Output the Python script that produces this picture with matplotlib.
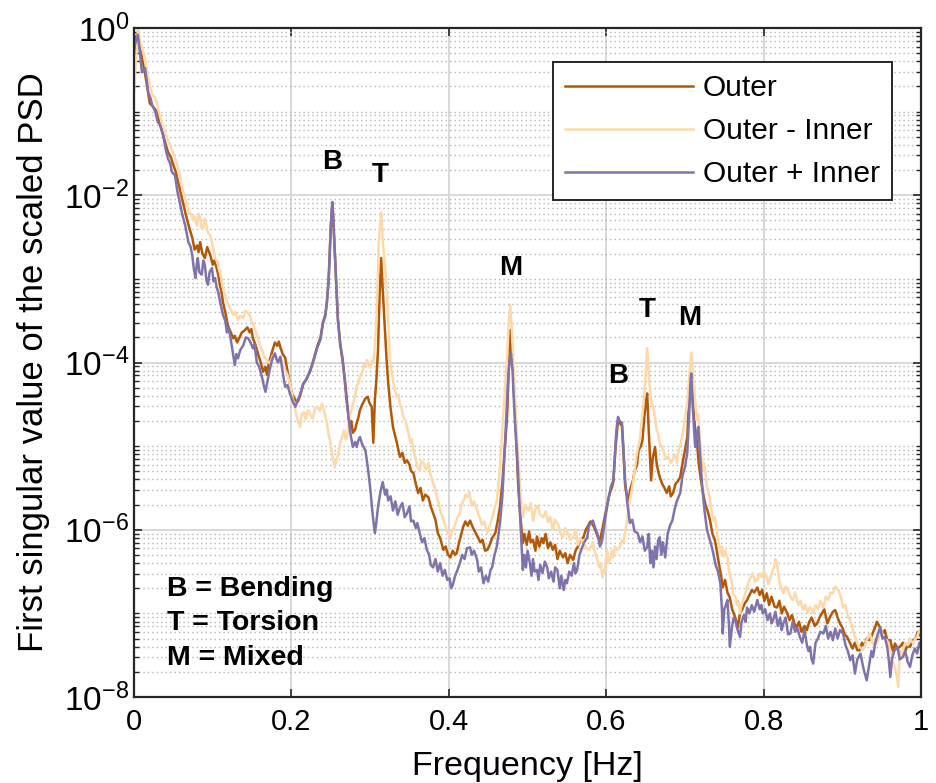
import matplotlib
matplotlib.use("Agg")
import matplotlib.pyplot as plt
import numpy as np

plt.rcParams['font.family'] = ['Liberation Sans', 'DejaVu Sans']
plt.rcParams['mathtext.fontset'] = 'custom'
plt.rcParams['mathtext.rm'] = 'Liberation Sans'
plt.rcParams['mathtext.it'] = 'Liberation Sans'
plt.rcParams['mathtext.bf'] = 'Liberation Sans:bold'

# ---- spectra: frequency [Hz] and log10 of the first singular value ----
outer_freq = [
    0.000, 0.004, 0.007, 0.011, 0.014, 0.017, 0.020, 0.024, 0.029, 0.033,
    0.037, 0.040, 0.043, 0.047, 0.050, 0.053, 0.056, 0.060, 0.065, 0.069,
    0.074, 0.077, 0.080, 0.082, 0.084, 0.087, 0.090, 0.093, 0.097, 0.100,
    0.102, 0.105, 0.107, 0.109, 0.111, 0.113, 0.116, 0.119, 0.122, 0.126,
    0.128, 0.131, 0.134, 0.137, 0.140, 0.144, 0.147, 0.149, 0.151, 0.154,
    0.158, 0.161, 0.164, 0.167, 0.169, 0.171, 0.173, 0.176, 0.179, 0.182,
    0.184, 0.186, 0.189, 0.192, 0.195, 0.198, 0.201, 0.205, 0.208, 0.211,
    0.215, 0.219, 0.224, 0.228, 0.233, 0.237, 0.240, 0.243, 0.245, 0.247,
    0.248, 0.250, 0.252, 0.253, 0.255, 0.257, 0.259, 0.262, 0.265, 0.268,
    0.271, 0.274, 0.276, 0.278, 0.281, 0.283, 0.285, 0.287, 0.290, 0.294,
    0.297, 0.299, 0.302, 0.304, 0.306, 0.308, 0.310, 0.312, 0.314, 0.316,
    0.319, 0.321, 0.323, 0.326, 0.329, 0.331, 0.334, 0.336, 0.338, 0.341,
    0.344, 0.347, 0.350, 0.352, 0.355, 0.358, 0.361, 0.364, 0.367, 0.370,
    0.374, 0.377, 0.380, 0.383, 0.386, 0.389, 0.393, 0.396, 0.399, 0.402,
    0.405, 0.408, 0.410, 0.413, 0.416, 0.418, 0.421, 0.424, 0.427, 0.430,
    0.433, 0.437, 0.440, 0.443, 0.446, 0.449, 0.452, 0.455, 0.459, 0.462,
    0.465, 0.468, 0.471, 0.474, 0.476, 0.478, 0.480, 0.482, 0.485, 0.488,
    0.491, 0.494, 0.496, 0.499, 0.502, 0.504, 0.507, 0.510, 0.512, 0.515,
    0.518, 0.520, 0.523, 0.526, 0.529, 0.532, 0.535, 0.538, 0.541, 0.545,
    0.548, 0.551, 0.554, 0.558, 0.561, 0.564, 0.567, 0.571, 0.574, 0.577,
    0.580, 0.582, 0.585, 0.588, 0.590, 0.592, 0.595, 0.598, 0.601, 0.604,
    0.607, 0.609, 0.612, 0.615, 0.617, 0.620, 0.622, 0.624, 0.626, 0.628,
    0.631, 0.634, 0.636, 0.639, 0.641, 0.644, 0.646, 0.648, 0.650, 0.652,
    0.653, 0.654, 0.656, 0.657, 0.659, 0.662, 0.664, 0.666, 0.668, 0.671,
    0.674, 0.677, 0.680, 0.682, 0.685, 0.688, 0.691, 0.694, 0.697, 0.700,
    0.703, 0.705, 0.708, 0.710, 0.713, 0.715, 0.718, 0.720, 0.723, 0.726,
    0.729, 0.732, 0.735, 0.738, 0.741, 0.744, 0.746, 0.748, 0.751, 0.754,
    0.757, 0.760, 0.764, 0.767, 0.770, 0.773, 0.776, 0.779, 0.782, 0.785,
    0.788, 0.792, 0.795, 0.798, 0.801, 0.804, 0.807, 0.810, 0.814, 0.817,
    0.820, 0.823, 0.826, 0.830, 0.833, 0.836, 0.839, 0.842, 0.845, 0.848,
    0.852, 0.855, 0.858, 0.861, 0.865, 0.868, 0.871, 0.874, 0.877, 0.881,
    0.884, 0.888, 0.891, 0.894, 0.897, 0.900, 0.903, 0.906, 0.910, 0.913,
    0.916, 0.919, 0.922, 0.925, 0.928, 0.931, 0.935, 0.938, 0.941, 0.944,
    0.948, 0.951, 0.954, 0.957, 0.961, 0.964, 0.967, 0.970, 0.973, 0.977,
    0.980, 0.983, 0.986, 0.990, 0.993, 0.996, 1.000]
outer_logpsd = [
    -0.25, -0.06, -0.20, -0.41, -0.55, -0.72, -0.90, -0.94, -1.00, -1.15,
    -1.28, -1.38, -1.48, -1.55, -1.64, -1.72, -1.84, -2.00, -2.20, -2.35,
    -2.51, -2.65, -2.60, -2.68, -2.56, -2.70, -2.75, -2.62, -2.72, -2.83,
    -2.78, -2.87, -2.95, -3.07, -3.15, -3.28, -3.40, -3.55, -3.62, -3.71,
    -3.68, -3.76, -3.70, -3.64, -3.62, -3.58, -3.64, -3.60, -3.71, -3.78,
    -3.91, -4.00, -4.11, -4.05, -4.15, -4.02, -3.95, -3.85, -3.76, -3.80,
    -3.75, -3.82, -3.90, -3.94, -4.10, -4.25, -4.38, -4.45, -4.47, -4.40,
    -4.26, -4.20, -4.10, -3.97, -3.80, -3.70, -3.52, -3.43, -3.28, -3.05,
    -2.85, -2.38, -2.09, -2.25, -2.66, -3.08, -3.47, -3.79, -3.98, -4.21,
    -4.50, -4.77, -4.70, -4.84, -4.80, -4.72, -4.66, -4.57, -4.50, -4.43,
    -4.41, -4.48, -4.53, -4.96, -4.45, -4.20, -3.85, -3.20, -2.75, -3.13,
    -3.65, -3.98, -4.25, -4.55, -4.77, -4.85, -4.96, -5.05, -5.13, -5.08,
    -5.20, -5.17, -5.22, -5.30, -5.32, -5.45, -5.56, -5.50, -5.65, -5.58,
    -5.61, -5.72, -5.80, -5.88, -6.04, -6.10, -6.24, -6.20, -6.30, -6.33,
    -6.25, -6.30, -6.28, -6.15, -6.05, -5.97, -5.90, -5.95, -5.89, -5.96,
    -6.02, -6.09, -6.15, -6.12, -6.25, -6.24, -6.18, -6.10, -6.04, -5.90,
    -5.72, -5.44, -5.05, -4.65, -4.10, -3.61, -3.85, -4.17, -4.80, -5.44,
    -5.85, -6.16, -6.05, -6.18, -6.02, -6.15, -6.12, -6.25, -6.08, -6.20,
    -6.10, -6.16, -6.05, -6.22, -6.15, -6.24, -6.18, -6.35, -6.25, -6.33,
    -6.28, -6.40, -6.30, -6.36, -6.25, -6.20, -6.12, -6.09, -6.00, -5.95,
    -5.90, -5.92, -5.98, -6.05, -6.10, -6.12, -6.00, -5.85, -5.71, -5.58,
    -5.50, -5.43, -5.00, -4.69, -4.72, -4.76, -5.10, -5.47, -5.58, -5.65,
    -5.50, -5.41, -5.30, -5.23, -5.05, -5.00, -4.93, -4.70, -4.50, -4.37,
    -4.60, -4.81, -5.20, -5.41, -5.15, -5.01, -5.20, -5.30, -5.37, -5.45,
    -5.50, -5.56, -5.48, -5.60, -5.56, -5.45, -5.42, -5.37, -5.20, -5.05,
    -4.89, -4.50, -4.17, -4.45, -4.81, -4.93, -5.25, -5.38, -5.56, -5.70,
    -5.78, -5.89, -6.05, -6.12, -6.28, -6.45, -6.55, -6.69, -6.60, -6.75,
    -6.81, -6.95, -7.05, -7.17, -7.00, -6.95, -6.88, -6.84, -6.78, -6.72,
    -6.75, -6.69, -6.78, -6.72, -6.85, -6.76, -6.90, -6.80, -6.92, -6.93,
    -6.85, -7.00, -6.92, -7.00, -7.08, -7.02, -7.12, -7.17, -7.10, -7.22,
    -7.15, -7.20, -7.10, -7.05, -7.15, -7.12, -7.05, -7.00, -6.95, -7.12,
    -7.05, -6.98, -6.96, -7.05, -7.12, -7.17, -7.25, -7.28, -7.36, -7.42,
    -7.35, -7.44, -7.44, -7.35, -7.40, -7.30, -7.32, -7.25, -7.18, -7.10,
    -7.17, -7.25, -7.20, -7.32, -7.32, -7.45, -7.36, -7.42, -7.40, -7.35,
    -7.45, -7.38, -7.40, -7.32, -7.30, -7.22, -7.28]

diff_freq = [
    0.000, 0.0025, 0.005, 0.009, 0.014, 0.017, 0.020, 0.023, 0.026, 0.029,
    0.032, 0.036, 0.039, 0.042, 0.045, 0.048, 0.052, 0.055, 0.058, 0.062,
    0.065, 0.069, 0.072, 0.075, 0.077, 0.080, 0.082, 0.084, 0.086, 0.088,
    0.090, 0.091, 0.094, 0.097, 0.100, 0.103, 0.106, 0.108, 0.111, 0.113,
    0.116, 0.119, 0.122, 0.126, 0.129, 0.132, 0.135, 0.139, 0.141, 0.144,
    0.147, 0.150, 0.154, 0.157, 0.160, 0.163, 0.166, 0.169, 0.173, 0.176,
    0.179, 0.182, 0.186, 0.189, 0.192, 0.195, 0.198, 0.201, 0.205, 0.208,
    0.211, 0.213, 0.216, 0.218, 0.221, 0.224, 0.227, 0.230, 0.233, 0.236,
    0.239, 0.242, 0.245, 0.247, 0.249, 0.252, 0.255, 0.257, 0.259, 0.262,
    0.264, 0.267, 0.269, 0.271, 0.274, 0.276, 0.278, 0.281, 0.283, 0.285,
    0.287, 0.290, 0.292, 0.294, 0.296, 0.298, 0.300, 0.302, 0.304, 0.306,
    0.308, 0.310, 0.311, 0.314, 0.316, 0.319, 0.321, 0.323, 0.325, 0.328,
    0.330, 0.332, 0.334, 0.336, 0.338, 0.340, 0.342, 0.345, 0.347, 0.349,
    0.351, 0.353, 0.355, 0.358, 0.360, 0.363, 0.365, 0.368, 0.371, 0.374,
    0.377, 0.380, 0.383, 0.385, 0.387, 0.389, 0.392, 0.395, 0.398, 0.402,
    0.405, 0.408, 0.411, 0.414, 0.416, 0.419, 0.421, 0.424, 0.426, 0.429,
    0.432, 0.436, 0.439, 0.442, 0.445, 0.449, 0.452, 0.455, 0.458, 0.461,
    0.465, 0.469, 0.472, 0.474, 0.476, 0.478, 0.480, 0.482, 0.485, 0.488,
    0.491, 0.494, 0.497, 0.501, 0.504, 0.507, 0.510, 0.513, 0.516, 0.520,
    0.523, 0.526, 0.529, 0.532, 0.535, 0.539, 0.542, 0.545, 0.548, 0.551,
    0.554, 0.558, 0.561, 0.564, 0.567, 0.571, 0.575, 0.579, 0.583, 0.586,
    0.588, 0.591, 0.593, 0.595, 0.597, 0.598, 0.600, 0.601, 0.603, 0.605,
    0.607, 0.609, 0.611, 0.614, 0.617, 0.620, 0.622, 0.624, 0.627, 0.630,
    0.632, 0.634, 0.636, 0.639, 0.641, 0.643, 0.645, 0.647, 0.650, 0.652,
    0.654, 0.656, 0.657, 0.660, 0.662, 0.664, 0.666, 0.668, 0.671, 0.673,
    0.676, 0.679, 0.682, 0.684, 0.687, 0.690, 0.692, 0.694, 0.696, 0.698,
    0.701, 0.703, 0.706, 0.708, 0.710, 0.713, 0.715, 0.717, 0.719, 0.722,
    0.724, 0.726, 0.728, 0.730, 0.732, 0.734, 0.736, 0.738, 0.741, 0.743,
    0.745, 0.747, 0.749, 0.751, 0.754, 0.757, 0.759, 0.761, 0.764, 0.766,
    0.768, 0.770, 0.772, 0.774, 0.777, 0.779, 0.781, 0.783, 0.786, 0.789,
    0.792, 0.795, 0.798, 0.800, 0.803, 0.806, 0.808, 0.811, 0.813, 0.815,
    0.817, 0.819, 0.821, 0.823, 0.825, 0.828, 0.831, 0.834, 0.837, 0.840,
    0.844, 0.847, 0.850, 0.853, 0.856, 0.859, 0.863, 0.866, 0.869, 0.872,
    0.876, 0.879, 0.882, 0.885, 0.888, 0.891, 0.895, 0.898, 0.901, 0.904,
    0.906, 0.908, 0.910, 0.913, 0.915, 0.917, 0.919, 0.922, 0.926, 0.929,
    0.931, 0.933, 0.935, 0.938, 0.940, 0.942, 0.944, 0.947, 0.950, 0.953,
    0.957, 0.959, 0.961, 0.963, 0.964, 0.966, 0.968, 0.970, 0.971, 0.973,
    0.975, 0.977, 0.980, 0.983, 0.986, 0.990, 0.993, 0.995, 0.998, 1.000]
diff_logpsd = [
    -0.77, -0.38, -0.02, -0.20, -0.36, -0.55, -0.68, -0.80, -0.82, -0.89,
    -1.02, -1.16, -1.22, -1.32, -1.38, -1.46, -1.55, -1.64, -1.75, -1.94,
    -2.05, -2.20, -2.22, -2.30, -2.25, -2.36, -2.22, -2.27, -2.40, -2.39,
    -2.28, -2.32, -2.45, -2.48, -2.60, -2.75, -2.80, -2.89, -3.00, -3.11,
    -3.20, -3.31, -3.35, -3.43, -3.40, -3.49, -3.44, -3.47, -3.38, -3.40,
    -3.43, -3.52, -3.61, -3.70, -3.79, -3.86, -3.94, -3.98, -4.01, -3.92,
    -3.91, -3.97, -3.94, -4.02, -4.09, -4.15, -4.25, -4.40, -4.57, -4.70,
    -4.77, -4.62, -4.59, -4.68, -4.57, -4.62, -4.67, -4.55, -4.53, -4.58,
    -4.49, -4.60, -4.72, -4.85, -4.93, -5.12, -5.25, -5.18, -5.11, -4.96,
    -4.90, -4.81, -4.92, -4.87, -4.63, -4.58, -4.49, -4.40, -4.27, -4.25,
    -4.17, -4.12, -4.03, -4.05, -3.97, -4.02, -4.07, -3.98, -4.00, -3.80,
    -3.46, -2.90, -2.54, -2.20, -2.54, -2.86, -3.15, -3.49, -3.97, -4.15,
    -4.27, -4.35, -4.41, -4.38, -4.51, -4.55, -4.65, -4.70, -4.78, -4.85,
    -4.96, -4.92, -5.05, -5.15, -5.25, -5.29, -5.18, -5.20, -5.28, -5.20,
    -5.35, -5.44, -5.52, -5.61, -5.68, -5.77, -5.85, -5.94, -6.02, -6.09,
    -6.00, -5.94, -5.85, -5.80, -5.70, -5.65, -5.58, -5.61, -5.55, -5.71,
    -5.66, -5.77, -5.85, -5.94, -5.90, -6.04, -5.95, -5.86, -5.75, -5.65,
    -5.25, -4.65, -4.20, -3.97, -3.55, -3.31, -3.60, -3.97, -4.55, -5.13,
    -5.55, -5.85, -5.70, -5.77, -5.68, -5.89, -5.75, -5.71, -5.82, -5.85,
    -5.78, -5.91, -5.85, -6.00, -5.88, -5.94, -6.05, -6.09, -5.98, -6.03,
    -6.12, -6.09, -6.00, -6.18, -6.10, -6.16, -6.22, -6.24, -6.15, -6.28,
    -6.33, -6.45, -6.40, -6.57, -6.48, -6.52, -6.30, -6.24, -6.40, -6.36,
    -6.25, -6.33, -6.20, -6.24, -6.21, -6.12, -6.15, -6.04, -5.85, -5.65,
    -5.55, -5.44, -5.30, -5.08, -5.00, -4.89, -4.70, -4.53, -4.15, -3.83,
    -4.15, -4.35, -4.45, -4.55, -4.65, -4.81, -4.85, -4.96, -5.02, -5.07,
    -5.15, -5.13, -5.20, -5.17, -5.10, -5.20, -5.05, -4.99, -4.90, -4.81,
    -4.60, -4.49, -4.10, -3.88, -4.09, -4.45, -4.69, -4.62, -4.89, -5.29,
    -5.20, -5.31, -5.49, -5.55, -5.65, -5.80, -5.89, -5.85, -6.04, -6.15,
    -6.28, -6.20, -6.32, -6.25, -6.33, -6.54, -6.60, -6.76, -6.80, -6.90,
    -6.85, -7.00, -6.90, -6.84, -6.75, -6.69, -6.62, -6.58, -6.52, -6.62,
    -6.60, -6.52, -6.57, -6.50, -6.54, -6.65, -6.60, -6.50, -6.45, -6.35,
    -6.40, -6.55, -6.66, -6.70, -6.76, -6.68, -6.72, -6.80, -6.84, -6.75,
    -6.90, -6.85, -6.96, -6.90, -6.99, -6.92, -7.00, -6.90, -6.94, -6.85,
    -6.93, -6.80, -6.84, -6.75, -6.76, -6.68, -6.72, -6.80, -6.93, -6.90,
    -6.99, -7.05, -7.08, -7.18, -7.26, -7.30, -7.36, -7.40, -7.44, -7.38,
    -7.32, -7.28, -7.24, -7.35, -7.38, -7.30, -7.36, -7.28, -7.22, -7.30,
    -7.32, -7.40, -7.44, -7.50, -7.56, -7.62, -7.70, -7.80, -7.88, -7.44,
    -7.50, -7.44, -7.35, -7.38, -7.30, -7.36, -7.30, -7.28, -7.20, -7.22]

sum_freq = [
    0.000, 0.001, 0.005, 0.008, 0.010, 0.014, 0.016, 0.018, 0.021, 0.023,
    0.027, 0.030, 0.033, 0.037, 0.040, 0.043, 0.046, 0.048, 0.052, 0.055,
    0.058, 0.061, 0.065, 0.069, 0.072, 0.074, 0.076, 0.078, 0.080, 0.081,
    0.083, 0.086, 0.088, 0.090, 0.092, 0.094, 0.096, 0.099, 0.101, 0.103,
    0.105, 0.107, 0.110, 0.113, 0.116, 0.118, 0.120, 0.122, 0.125, 0.128,
    0.130, 0.132, 0.135, 0.139, 0.142, 0.145, 0.148, 0.151, 0.153, 0.156,
    0.159, 0.163, 0.165, 0.167, 0.170, 0.173, 0.176, 0.179, 0.181, 0.183,
    0.186, 0.188, 0.190, 0.192, 0.195, 0.198, 0.201, 0.205, 0.208, 0.211,
    0.215, 0.219, 0.224, 0.228, 0.233, 0.237, 0.240, 0.243, 0.245, 0.247,
    0.248, 0.250, 0.252, 0.253, 0.255, 0.257, 0.259, 0.262, 0.265, 0.268,
    0.270, 0.272, 0.275, 0.278, 0.281, 0.283, 0.285, 0.287, 0.290, 0.294,
    0.297, 0.300, 0.303, 0.306, 0.308, 0.310, 0.313, 0.316, 0.319, 0.321,
    0.323, 0.326, 0.329, 0.332, 0.335, 0.338, 0.341, 0.344, 0.347, 0.350,
    0.352, 0.355, 0.358, 0.360, 0.363, 0.366, 0.369, 0.372, 0.375, 0.377,
    0.380, 0.383, 0.386, 0.389, 0.392, 0.395, 0.398, 0.401, 0.403, 0.405,
    0.408, 0.411, 0.414, 0.417, 0.420, 0.423, 0.427, 0.429, 0.432, 0.436,
    0.438, 0.441, 0.444, 0.447, 0.450, 0.453, 0.455, 0.458, 0.461, 0.465,
    0.468, 0.471, 0.473, 0.475, 0.477, 0.479, 0.481, 0.482, 0.484, 0.487,
    0.489, 0.491, 0.494, 0.496, 0.498, 0.500, 0.503, 0.505, 0.507, 0.509,
    0.512, 0.514, 0.516, 0.519, 0.522, 0.525, 0.527, 0.530, 0.533, 0.535,
    0.538, 0.541, 0.543, 0.546, 0.548, 0.550, 0.553, 0.556, 0.559, 0.561,
    0.563, 0.566, 0.569, 0.572, 0.576, 0.578, 0.581, 0.583, 0.586, 0.589,
    0.592, 0.595, 0.597, 0.599, 0.601, 0.603, 0.606, 0.609, 0.611, 0.613,
    0.615, 0.617, 0.620, 0.622, 0.624, 0.627, 0.630, 0.633, 0.636, 0.640,
    0.643, 0.646, 0.649, 0.652, 0.654, 0.656, 0.658, 0.660, 0.662, 0.664,
    0.666, 0.668, 0.670, 0.672, 0.675, 0.678, 0.681, 0.684, 0.687, 0.690,
    0.694, 0.697, 0.700, 0.703, 0.705, 0.707, 0.708, 0.710, 0.713, 0.715,
    0.717, 0.720, 0.722, 0.725, 0.728, 0.731, 0.734, 0.736, 0.739, 0.742,
    0.745, 0.747, 0.748, 0.750, 0.752, 0.754, 0.756, 0.757, 0.760, 0.762,
    0.764, 0.767, 0.770, 0.772, 0.775, 0.777, 0.779, 0.782, 0.785, 0.788,
    0.792, 0.795, 0.797, 0.799, 0.802, 0.805, 0.808, 0.810, 0.812, 0.815,
    0.818, 0.821, 0.823, 0.825, 0.828, 0.831, 0.834, 0.837, 0.840, 0.843,
    0.846, 0.849, 0.852, 0.855, 0.857, 0.859, 0.861, 0.863, 0.866, 0.869,
    0.872, 0.876, 0.879, 0.882, 0.885, 0.888, 0.891, 0.894, 0.897, 0.901,
    0.904, 0.907, 0.910, 0.913, 0.916, 0.919, 0.923, 0.926, 0.928, 0.931,
    0.934, 0.937, 0.939, 0.942, 0.945, 0.948, 0.951, 0.954, 0.957, 0.959,
    0.961, 0.963, 0.966, 0.970, 0.973, 0.977, 0.980, 0.983, 0.986, 0.989,
    0.992, 0.995, 0.998, 1.000]
sum_logpsd = [
    -0.30, -0.20, -0.08, -0.35, -0.53, -0.48, -0.62, -0.77, -0.84, -0.92,
    -1.00, -1.12, -1.16, -1.28, -1.44, -1.56, -1.62, -1.72, -1.76, -1.95,
    -2.08, -2.22, -2.36, -2.56, -2.62, -2.72, -2.88, -2.99, -2.80, -2.75,
    -2.92, -2.95, -2.78, -2.83, -3.02, -3.07, -2.92, -2.87, -3.03, -2.99,
    -3.10, -3.16, -3.30, -3.43, -3.50, -3.64, -3.58, -3.67, -3.85, -4.03,
    -3.90, -3.95, -3.85, -3.79, -3.70, -3.71, -3.76, -3.83, -3.78, -4.00,
    -4.05, -4.19, -4.28, -4.35, -4.20, -4.06, -3.95, -3.89, -3.96, -4.00,
    -3.93, -4.06, -4.18, -4.29, -4.27, -4.37, -4.45, -4.53, -4.45, -4.38,
    -4.25, -4.20, -4.09, -3.98, -3.82, -3.72, -3.53, -3.45, -3.29, -3.05,
    -2.86, -2.36, -2.08, -2.24, -2.66, -3.10, -3.49, -3.77, -3.95, -4.25,
    -4.45, -4.61, -4.85, -5.01, -4.95, -5.01, -4.93, -4.89, -4.98, -5.05,
    -5.25, -5.49, -5.80, -6.04, -5.90, -5.73, -5.55, -5.43, -5.58, -5.52,
    -5.65, -5.60, -5.77, -5.66, -5.82, -5.73, -5.68, -5.85, -5.80, -5.72,
    -5.90, -5.89, -5.98, -5.92, -6.04, -6.15, -6.10, -6.24, -6.30, -6.42,
    -6.45, -6.35, -6.50, -6.40, -6.55, -6.48, -6.60, -6.58, -6.70, -6.66,
    -6.55, -6.48, -6.40, -6.30, -6.35, -6.22, -6.21, -6.30, -6.25, -6.36,
    -6.50, -6.45, -6.64, -6.55, -6.62, -6.48, -6.45, -6.30, -6.20, -5.92,
    -5.60, -5.05, -4.65, -4.25, -4.00, -3.89, -4.10, -4.33, -4.70, -5.13,
    -5.55, -5.92, -6.48, -6.30, -6.45, -6.25, -6.40, -6.55, -6.35, -6.50,
    -6.48, -6.60, -6.42, -6.52, -6.38, -6.45, -6.58, -6.50, -6.62, -6.45,
    -6.48, -6.70, -6.55, -6.72, -6.60, -6.64, -6.50, -6.55, -6.40, -6.52,
    -6.48, -6.30, -6.22, -6.15, -6.09, -5.95, -5.92, -5.89, -5.98, -6.05,
    -6.20, -6.12, -5.98, -5.85, -5.73, -5.62, -5.48, -5.41, -5.10, -4.80,
    -4.65, -4.70, -4.72, -5.05, -5.41, -5.70, -5.92, -5.88, -6.02, -6.04,
    -6.15, -6.08, -6.25, -6.21, -6.05, -6.40, -6.25, -6.45, -6.20, -6.35,
    -6.12, -6.09, -6.30, -6.15, -6.33, -6.05, -5.95, -5.89, -5.75, -5.65,
    -5.56, -5.35, -5.25, -5.08, -4.70, -4.25, -4.13, -4.55, -5.01, -4.85,
    -4.77, -5.20, -5.49, -5.78, -6.00, -6.10, -6.20, -6.28, -6.42, -6.50,
    -6.64, -6.95, -7.24, -6.95, -6.90, -6.84, -7.15, -7.40, -7.15, -7.05,
    -7.08, -7.20, -7.28, -7.10, -7.02, -7.10, -6.93, -7.00, -6.90, -6.98,
    -6.84, -6.95, -6.90, -7.00, -6.95, -7.08, -7.00, -7.12, -7.08, -6.98,
    -7.15, -7.05, -7.20, -7.12, -7.05, -7.25, -7.24, -7.10, -7.22, -7.18,
    -7.28, -7.35, -7.20, -7.38, -7.45, -7.40, -7.55, -7.60, -7.35, -7.30,
    -7.22, -7.24, -7.15, -7.30, -7.22, -7.32, -7.18, -7.30, -7.20, -7.24,
    -7.38, -7.45, -7.56, -7.50, -7.72, -7.55, -7.48, -7.62, -7.70, -7.80,
    -7.62, -7.45, -7.52, -7.35, -7.25, -7.17, -7.30, -7.28, -7.40, -7.55,
    -7.76, -7.55, -7.45, -7.40, -7.55, -7.52, -7.45, -7.58, -7.64, -7.50,
    -7.42, -7.48, -7.35, -7.40]

series_labels = ['Outer', 'Outer - Inner', 'Outer + Inner']
series_colors = ['#b35806', '#fdd9a9', '#8073ac']

# mode labels: (text, frequency, log10 height)
mode_labels = [('B', 0.2516, -1.60), ('T', 0.3126, -1.76), ('M', 0.478, -2.87),
               ('B', 0.615, -4.16), ('T', 0.652, -3.37), ('M', 0.7065, -3.47)]
key_lines = ['B = Bending', 'T = Torsion', 'M = Mixed']

x_ticks = [0, 0.2, 0.4, 0.6, 0.8, 1.0]
y_tick_exponents = [0, -2, -4, -6, -8]

fig = plt.figure(figsize=(9.36, 7.83), dpi=100)
ax = fig.add_axes([0.1432, 0.1098, 0.8408, 0.8544])

series = [(outer_freq, outer_logpsd), (diff_freq, diff_logpsd), (sum_freq, sum_logpsd)]
for (f, lp), lab, col in zip(series, series_labels, series_colors):
    ax.plot(f, 10.0 ** np.asarray(lp), color=col, lw=1.8, label=lab)

ax.set_yscale('log')
ax.set_xlim(0, 1)
ax.set_ylim(1e-8, 1e0)

ax.set_xticks(x_ticks)
ax.set_xticklabels(['%g' % t for t in x_ticks])
ax.set_yticks([10.0 ** e for e in y_tick_exponents])
ax.set_yticklabels([r'$\mathregular{10^{%d}}$' % e for e in y_tick_exponents])
minor = [k * 10.0 ** d for d in range(-8, 0) for k in range(1, 10)
         if not (k == 1 and d % 2 == 0)]
ax.set_yticks(minor, minor=True)
ax.yaxis.set_minor_formatter(matplotlib.ticker.NullFormatter())

ax.tick_params(axis='both', which='major', direction='in', length=6, width=1.2,
               top=True, right=True, labelsize=21, colors='#262626', labelcolor='black')
ax.tick_params(axis='x', which='major', pad=8)
ax.tick_params(axis='y', which='major', labelsize=24)
ax.tick_params(axis='y', which='minor', direction='in', length=3.5, width=1.0,
               left=True, right=True, colors='#262626')

ax.grid(which='major', color='#d6d6d6', lw=1.3, ls='-')
ax.grid(which='minor', axis='y', color='#b5b5b5', lw=1.0, ls=(0, (1, 2.2)))
ax.set_axisbelow(True)

for s in ax.spines.values():
    s.set_color('#262626')
    s.set_linewidth(1.6)

ax.set_xlabel('Frequency [Hz]', fontsize=24.5, labelpad=11)
ax.set_ylabel('First singular value of the scaled PSD', fontsize=25, labelpad=10)

for txt, fx, ly in mode_labels:
    ax.text(fx, 10.0 ** ly, txt, ha='center', va='center', fontsize=20,
            fontweight='bold')

for i, line in enumerate(key_lines):
    ax.text(0.042, 0.162 - i * 0.052, line, transform=ax.transAxes, ha='left',
            va='center', fontsize=20.5, fontweight='bold')

leg = ax.legend(loc='upper right', bbox_to_anchor=(0.963, 0.949), borderaxespad=0,
                fontsize=21.5, handlelength=4.3, handletextpad=0.33, labelspacing=0.5,
                borderpad=0.4, fancybox=False, framealpha=1, edgecolor='#262626')
leg.get_frame().set_linewidth(1.4)

fig.savefig('out.png', dpi=100)
